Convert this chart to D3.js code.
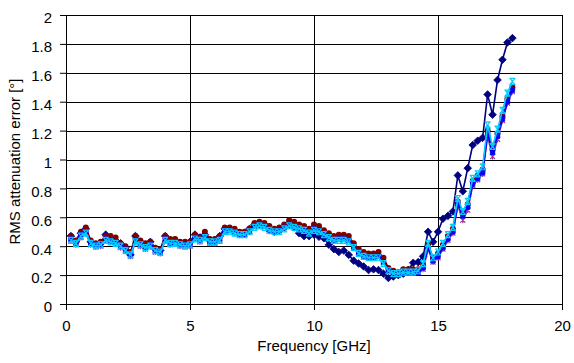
<!DOCTYPE html>
<html>
<head>
<meta charset="utf-8">
<script src="https://cdn.jsdelivr.net/npm/d3@7"></script>
<style>
  html, body { margin: 0; padding: 0; background: #fff; }
  svg text { font-family: Arial, "Liberation Sans", sans-serif; fill: #000; }
</style>
</head>
<body>
<div id="chart"></div>
<script>
// Frequency points [GHz]
const freq = [
  0.2, 0.4, 0.6, 0.8, 1.0, 1.2, 1.4, 1.6, 1.8, 2.0,
  2.2, 2.4, 2.6, 2.8, 3.0, 3.2, 3.4, 3.6, 3.8, 4.0,
  4.2, 4.4, 4.6, 4.8, 5.0, 5.2, 5.4, 5.6, 5.8, 6.0,
  6.2, 6.4, 6.6, 6.8, 7.0, 7.2, 7.4, 7.6, 7.8, 8.0,
  8.2, 8.4, 8.6, 8.8, 9.0, 9.2, 9.4, 9.6, 9.8, 10.0,
  10.2, 10.4, 10.6, 10.8, 11.0, 11.2, 11.4, 11.6, 11.8, 12.0,
  12.2, 12.4, 12.6, 12.8, 13.0, 13.2, 13.4, 13.6, 13.8, 14.0,
  14.2, 14.4, 14.6, 14.8, 15.0, 15.2, 15.4, 15.6, 15.8, 16.0,
  16.2, 16.4, 16.6, 16.8, 17.0, 17.2, 17.4, 17.6, 17.8, 18.0
];

// RMS attenuation error [°] per measurement
const navyVals = [
  0.47, 0.43, 0.49, 0.52, 0.43, 0.41, 0.42, 0.48, 0.46, 0.44,
  0.42, 0.39, 0.34, 0.47, 0.43, 0.40, 0.43, 0.38, 0.37, 0.47,
  0.44, 0.44, 0.42, 0.42, 0.43, 0.48, 0.46, 0.48, 0.44, 0.44,
  0.47, 0.52, 0.52, 0.50, 0.49, 0.49, 0.52, 0.55, 0.55, 0.55,
  0.51, 0.50, 0.51, 0.53, 0.55, 0.53, 0.49, 0.47, 0.47, 0.48,
  0.465, 0.455, 0.41, 0.38, 0.36, 0.37, 0.34, 0.30, 0.28, 0.26,
  0.235, 0.24, 0.235, 0.21, 0.18, 0.19, 0.20, 0.21, 0.235, 0.285,
  0.29, 0.33, 0.50, 0.43, 0.50, 0.59, 0.61, 0.64, 0.89, 0.78,
  0.94, 1.10, 1.13, 1.15, 1.45, 1.31, 1.55, 1.69, 1.81, 1.84
];
const maroonVals = [
  0.47, 0.44, 0.50, 0.53, 0.44, 0.42, 0.43, 0.47, 0.47, 0.46,
  0.42, 0.40, 0.36, 0.47, 0.44, 0.42, 0.43, 0.39, 0.38, 0.47,
  0.45, 0.45, 0.43, 0.43, 0.43, 0.48, 0.46, 0.50, 0.45, 0.45,
  0.47, 0.53, 0.53, 0.52, 0.50, 0.50, 0.52, 0.56, 0.57, 0.56,
  0.54, 0.52, 0.53, 0.55, 0.58, 0.57, 0.55, 0.54, 0.52, 0.55,
  0.54, 0.51, 0.49, 0.47, 0.48, 0.48, 0.47, 0.42, 0.38, 0.36,
  0.35, 0.35, 0.36, 0.32, 0.25, 0.23, 0.22, 0.24, 0.24, 0.24,
  0.24, 0.27, 0.41, 0.32, 0.35, 0.41, 0.47, 0.52, 0.71, 0.63,
  0.69, 0.85, 0.89, 0.93, 1.20, 1.07, 1.18, 1.30, 1.42, 1.50
];
const blueVals = [
  0.45, 0.42, 0.48, 0.50, 0.42, 0.41, 0.41, 0.45, 0.44, 0.43,
  0.40, 0.38, 0.34, 0.44, 0.41, 0.39, 0.41, 0.37, 0.36, 0.45,
  0.42, 0.43, 0.41, 0.41, 0.41, 0.46, 0.44, 0.47, 0.43, 0.43,
  0.45, 0.51, 0.51, 0.50, 0.48, 0.48, 0.50, 0.54, 0.55, 0.54,
  0.51, 0.50, 0.51, 0.53, 0.55, 0.54, 0.52, 0.51, 0.49, 0.52,
  0.51, 0.48, 0.46, 0.44, 0.45, 0.45, 0.44, 0.39, 0.35, 0.33,
  0.32, 0.32, 0.33, 0.29, 0.23, 0.21, 0.20, 0.22, 0.22, 0.22,
  0.22, 0.25, 0.39, 0.30, 0.33, 0.39, 0.45, 0.50, 0.69, 0.61,
  0.67, 0.83, 0.87, 0.91, 1.18, 1.05, 1.16, 1.28, 1.40, 1.48
];
const cyanVals = [
  0.44, 0.42, 0.47, 0.49, 0.42, 0.40, 0.41, 0.44, 0.43, 0.42,
  0.40, 0.37, 0.34, 0.43, 0.41, 0.39, 0.40, 0.37, 0.36, 0.44,
  0.42, 0.42, 0.41, 0.40, 0.41, 0.45, 0.44, 0.46, 0.43, 0.43,
  0.44, 0.50, 0.50, 0.49, 0.48, 0.48, 0.50, 0.53, 0.54, 0.53,
  0.51, 0.50, 0.50, 0.52, 0.54, 0.53, 0.52, 0.51, 0.49, 0.51,
  0.50, 0.48, 0.46, 0.44, 0.44, 0.44, 0.43, 0.39, 0.35, 0.33,
  0.32, 0.32, 0.32, 0.28, 0.23, 0.21, 0.21, 0.22, 0.22, 0.22,
  0.23, 0.28, 0.42, 0.32, 0.36, 0.42, 0.48, 0.53, 0.73, 0.64,
  0.71, 0.87, 0.90, 0.95, 1.24, 1.09, 1.21, 1.34, 1.46, 1.54
];
const purpleVals = [
  0.44, 0.41, 0.46, 0.49, 0.41, 0.40, 0.40, 0.44, 0.43, 0.42,
  0.39, 0.37, 0.33, 0.43, 0.40, 0.38, 0.40, 0.36, 0.35, 0.44,
  0.41, 0.42, 0.40, 0.40, 0.40, 0.45, 0.43, 0.46, 0.42, 0.42,
  0.44, 0.50, 0.51, 0.50, 0.48, 0.48, 0.50, 0.55, 0.56, 0.55,
  0.53, 0.51, 0.52, 0.54, 0.57, 0.56, 0.54, 0.53, 0.51, 0.54,
  0.53, 0.50, 0.48, 0.46, 0.47, 0.47, 0.46, 0.41, 0.37, 0.35,
  0.34, 0.34, 0.35, 0.31, 0.24, 0.22, 0.21, 0.23, 0.23, 0.23,
  0.22, 0.24, 0.38, 0.29, 0.32, 0.38, 0.44, 0.49, 0.68, 0.58,
  0.65, 0.82, 0.86, 0.90, 1.16, 1.02, 1.14, 1.27, 1.39, 1.47
];
const tealVals = [
  0.45, 0.42, 0.47, 0.50, 0.42, 0.40, 0.41, 0.45, 0.44, 0.43,
  0.40, 0.37, 0.34, 0.44, 0.41, 0.39, 0.41, 0.37, 0.36, 0.45,
  0.42, 0.43, 0.41, 0.41, 0.41, 0.46, 0.44, 0.47, 0.43, 0.43,
  0.45, 0.51, 0.51, 0.50, 0.48, 0.48, 0.50, 0.54, 0.55, 0.54,
  0.52, 0.51, 0.51, 0.53, 0.55, 0.54, 0.53, 0.52, 0.50, 0.52,
  0.51, 0.49, 0.47, 0.45, 0.45, 0.45, 0.44, 0.40, 0.36, 0.34,
  0.33, 0.33, 0.33, 0.29, 0.23, 0.22, 0.21, 0.22, 0.22, 0.22,
  0.22, 0.26, 0.40, 0.30, 0.34, 0.40, 0.46, 0.51, 0.70, 0.61,
  0.68, 0.85, 0.88, 0.92, 1.20, 1.05, 1.17, 1.30, 1.42, 1.50
];

const xTicks = [0, 5, 10, 15, 20];
const yTicks = [0, 0.2, 0.4, 0.6, 0.8, 1, 1.2, 1.4, 1.6, 1.8, 2];

const series = [
  { name: 'navy', values: navyVals, color: '#000080', marker: 'diamond' },
  { name: 'purple', values: purpleVals, color: '#993399', marker: 'star' },
  { name: 'teal', values: tealVals, color: '#008080', marker: 'x' },
  { name: 'maroon', values: maroonVals, color: '#800000', marker: 'circle' },
  { name: 'blue', values: blueVals, color: '#0000FF', marker: 'square' },
  { name: 'cyan', values: cyanVals, color: '#00CCFF', marker: 'capx' }
];

// Set up dimensions
const width = 574;
const height = 363;
const margin = { top: 15, right: 12, bottom: 59, left: 66 };

const svg = d3.select('#chart')
  .append('svg')
  .attr('width', width)
  .attr('height', height);

const x = d3.scaleLinear().domain([0, 20]).range([margin.left, width - margin.right]);
const y = d3.scaleLinear().domain([0, 2]).range([height - margin.bottom, margin.top]);

/* Grid
=========================================================================*/
const grid = svg.append('g').attr('shape-rendering', 'crispEdges');

grid.selectAll('line.h')
  .data(yTicks.filter((d) => d > 0))
  .enter()
  .append('line')
  .attr('x1', x(0))
  .attr('x2', x(20))
  .attr('y1', (d) => Math.round(y(d)) + 0.5)
  .attr('y2', (d) => Math.round(y(d)) + 0.5)
  .attr('stroke', '#000');

grid.selectAll('line.v')
  .data(xTicks.filter((d) => d > 0))
  .enter()
  .append('line')
  .attr('x1', (d) => Math.round(x(d)) + 0.5)
  .attr('x2', (d) => Math.round(x(d)) + 0.5)
  .attr('y1', y(0))
  .attr('y2', y(2))
  .attr('stroke', '#000');

/* Axes
=========================================================================*/
const xAxis = svg.append('g')
  .attr('transform', `translate(0, ${Math.round(y(0))})`)
  .call(d3.axisBottom(x).tickValues(xTicks).tickSize(6).tickPadding(10).tickSizeOuter(0));

const yAxis = svg.append('g')
  .attr('transform', `translate(${Math.round(x(0))}, 0)`)
  .call(d3.axisLeft(y).tickValues(yTicks).tickSize(6).tickPadding(8).tickSizeOuter(0)
    .tickFormat((d) => d3.format('~g')(d)));

[xAxis, yAxis].forEach((g) => {
  g.select('.domain').attr('stroke', '#000');
  g.selectAll('.tick line').attr('stroke', '#000');
  g.selectAll('text')
    .style('font-family', 'Arial, "Liberation Sans", sans-serif')
    .style('font-size', '15px')
    .attr('fill', '#000');
});
yAxis.selectAll('text').attr('dy', '0.52em');

svg.append('text')
  .attr('x', (x(0) + x(20)) / 2)
  .attr('y', 351)
  .attr('text-anchor', 'middle')
  .style('font-size', '15px')
  .text('Frequency [GHz]');

svg.append('text')
  .attr('transform', `translate(20, ${(y(0) + y(2)) / 2 + 2}) rotate(-90)`)
  .attr('text-anchor', 'middle')
  .style('font-size', '15px')
  .text('RMS attenuation error [°]');

/* Series
=========================================================================*/
const markerPath = {
  diamond: 'M0,-3.8L3.8,0L0,3.8L-3.8,0Z',
  square: 'M-2.2,-2.2H2.2V2.2H-2.2Z',
  x: 'M-2.5,-2.5L2.5,2.5M2.5,-2.5L-2.5,2.5',
  star: 'M-2.5,-2.5L2.5,2.5M2.5,-2.5L-2.5,2.5M0,-3L0,3',
  capx: 'M-3,-3H3M-2.5,-3L2.5,3M2.5,-3L-2.5,3M-3,3H3'
};

const line = d3.line()
  .x((d) => x(d[0]))
  .y((d) => y(d[1]));

series.forEach((s) => {
  const pts = freq.map((f, i) => [f, s.values[i]]);
  const g = svg.append('g').attr('class', 'series');

  g.append('path')
    .datum(pts)
    .attr('d', line)
    .attr('fill', 'none')
    .attr('stroke', s.color)
    .attr('stroke-width', 1.6);

  if (s.marker === 'circle') {
    g.selectAll('circle')
      .data(pts)
      .enter()
      .append('circle')
      .attr('cx', (d) => x(d[0]))
      .attr('cy', (d) => y(d[1]))
      .attr('r', 3)
      .attr('fill', s.color);
  } else {
    const filled = s.marker === 'diamond' || s.marker === 'square';
    g.selectAll('path.m')
      .data(pts)
      .enter()
      .append('path')
      .attr('class', 'm')
      .attr('transform', (d) => `translate(${x(d[0])}, ${y(d[1])})`)
      .attr('d', markerPath[s.marker])
      .attr('fill', filled ? s.color : 'none')
      .attr('stroke', s.color)
      .attr('stroke-width', filled ? 0.8 : 1.2);
  }
});
</script>
</body>
</html>
